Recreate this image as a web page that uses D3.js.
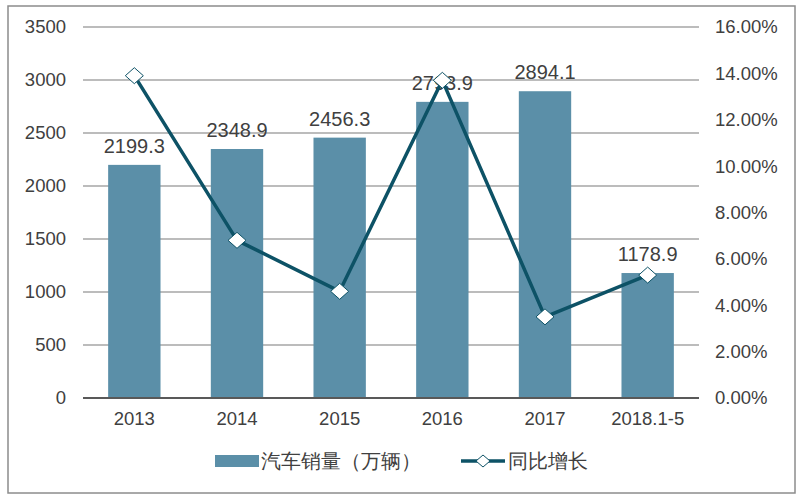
<!DOCTYPE html>
<html><head><meta charset="utf-8">
<script src="https://cdn.jsdelivr.net/npm/d3@7"></script>
<style>
body{margin:0;background:#fff;}
svg text{font-family:"Liberation Sans",Arial,sans-serif;}
</style></head>
<body><svg id="c" width="800" height="500"></svg>
<script>
const categories = ["2013","2014","2015","2016","2017","2018.1-5"];
const sales = [2199.3, 2348.9, 2456.3, 2793.9, 2894.1, 1178.9];
const growth = [13.9, 6.8, 4.6, 13.7, 3.5, 5.3];
const leftTicks = [0,500,1000,1500,2000,2500,3000,3500];
const rightTicks = [0,2,4,6,8,10,12,14,16];
const seriesNames = ["汽车销量（万辆）","同比增长"];

const svg = d3.select("#c");
const pL = 83, pR = 699, pT = 27, pB = 398;
const barColor = "#5b8fa8", lineColor = "#0d5266", textColor = "#404040";

svg.append("rect").attr("x",8).attr("y",6).attr("width",787).attr("height",487)
  .attr("fill","#fff").attr("stroke","#8c8c8c").attr("stroke-width",1.5);

const x = d3.scaleBand().domain(categories).range([pL,pR]).paddingInner(0.49).paddingOuter(0.245);
const y = d3.scaleLinear().domain([0,3500]).range([pB,pT]);
const y2 = d3.scaleLinear().domain([0,16]).range([pB,pT]);

// gridlines
svg.append("g").selectAll("line").data(leftTicks.slice(1)).join("line")
  .attr("x1",pL).attr("x2",pR).attr("y1",d=>y(d)).attr("y2",d=>y(d))
  .attr("stroke","#a6a6a6").attr("stroke-width",1.5);

// left axis
const ga = svg.append("g").attr("transform",`translate(${pL},0)`)
  .call(d3.axisLeft(y).tickValues(leftTicks).tickSize(0).tickPadding(17).tickFormat(d3.format("d")));
ga.select(".domain").remove();
ga.selectAll("text").attr("font-size",18.5).attr("fill",textColor).attr("font-family","Liberation Sans, Arial");

// right axis
const gr = svg.append("g").attr("transform",`translate(${pR},0)`)
  .call(d3.axisRight(y2).tickValues(rightTicks).tickSize(0).tickPadding(16).tickFormat(d=>d3.format(".2f")(d)+"%"));
gr.select(".domain").remove();
gr.selectAll("text").attr("font-size",18.5).attr("fill",textColor).attr("font-family","Liberation Sans, Arial");

// bars
svg.append("g").selectAll("rect").data(sales).join("rect")
  .attr("x",(d,i)=>x(categories[i])).attr("width",x.bandwidth())
  .attr("y",d=>y(d)).attr("height",d=>pB-y(d)).attr("fill",barColor);

// x axis line
svg.append("line").attr("x1",pL).attr("x2",pR).attr("y1",pB).attr("y2",pB)
  .attr("stroke","#595959").attr("stroke-width",2);

// x labels
const gx = svg.append("g").attr("transform",`translate(0,${pB})`)
  .call(d3.axisBottom(x).tickSize(0).tickPadding(14));
gx.select(".domain").remove();
gx.selectAll("text").attr("font-size",18.5).attr("fill",textColor).attr("font-family","Liberation Sans, Arial");

// bar labels
svg.append("g").selectAll("text").data(sales).join("text")
  .attr("x",(d,i)=>x(categories[i])+x.bandwidth()/2).attr("y",d=>y(d)-12)
  .attr("text-anchor","middle").attr("font-size",20).attr("fill",textColor)
  .text(d=>d3.format(".1f")(d));

// line
const line = d3.line().x((d,i)=>x(categories[i])+x.bandwidth()/2).y(d=>y2(d));
svg.append("path").datum(growth).attr("d",line).attr("fill","none")
  .attr("stroke",lineColor).attr("stroke-width",3.5).attr("stroke-linejoin","round");
const diamond = "M0,-8L9,0L0,8L-9,0Z";
svg.append("g").selectAll("path").data(growth).join("path")
  .attr("transform",(d,i)=>`translate(${x(categories[i])+x.bandwidth()/2},${y2(d)})`)
  .attr("d",diamond).attr("fill","#fff").attr("stroke",lineColor).attr("stroke-width",1);

// legend
const lg = svg.append("g");
lg.append("rect").attr("x",215).attr("y",455).attr("width",44).attr("height",12).attr("fill",barColor);
lg.append("text").attr("x",261).attr("y",468).attr("font-size",20).attr("fill",textColor)
  .attr("font-family","Noto Sans CJK SC").text(seriesNames[0]);
lg.append("line").attr("x1",461).attr("x2",505).attr("y1",461).attr("y2",461)
  .attr("stroke",lineColor).attr("stroke-width",3.5);
lg.append("path").attr("transform","translate(483,461)").attr("d","M0,-6L7,0L0,6L-7,0Z")
  .attr("fill","#fff").attr("stroke",lineColor).attr("stroke-width",1);
lg.append("text").attr("x",508).attr("y",468).attr("font-size",20).attr("fill",textColor)
  .attr("font-family","Noto Sans CJK SC").text(seriesNames[1]);
</script></body></html>
